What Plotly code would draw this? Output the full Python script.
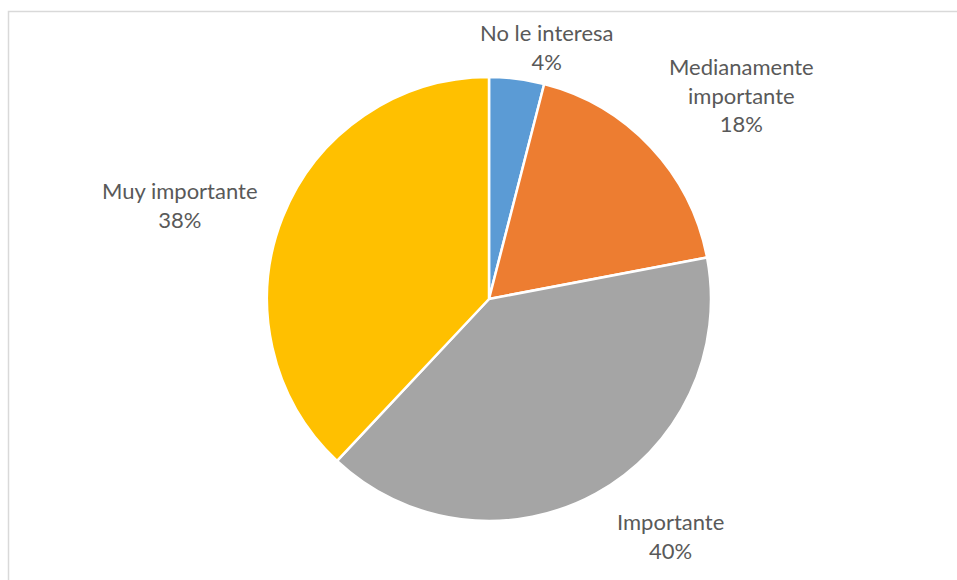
import plotly.graph_objects as go

categories = ["No le interesa", "Medianamente importante", "Importante", "Muy importante"]
label_text = ["No le interesa", "Medianamente<br>importante", "Importante", "Muy importante"]
values = [4, 18, 40, 38]
colors = ["#5B9BD5", "#ED7D31", "#A5A5A5", "#FFC000"]

# label block centres in pixels (layout only)
label_pos = [(546, 47), (741, 95), (670, 536), (180, 205)]

W, H = 957, 580
cx, cy, r = 489, 299, 222

fig = go.Figure(go.Pie(
    labels=categories,
    values=values,
    sort=False,
    direction="clockwise",
    rotation=0,
    textinfo="none",
    hoverinfo="label+percent",
    marker=dict(colors=colors, line=dict(color="white", width=2.5)),
    domain=dict(x=[(cx - r) / W, (cx + r) / W], y=[1 - (cy + r) / H, 1 - (cy - r) / H]),
    showlegend=False,
))

total = sum(values)
annotations = []
for txt, v, (px, py) in zip(label_text, values, label_pos):
    annotations.append(dict(
        x=px / W, y=1 - py / H, xref="paper", yref="paper",
        text=f"{txt}<br>{round(100 * v / total)}%",
        showarrow=False, xanchor="center", yanchor="middle",
        font=dict(family="Lato", size=22, color="#595959"),
    ))

fig.update_layout(
    width=W, height=H,
    margin=dict(l=0, r=0, t=0, b=0),
    paper_bgcolor="white",
    plot_bgcolor="white",
    annotations=annotations,
    shapes=[dict(type="rect", xref="paper", yref="paper",
                 x0=8.5 / W, x1=1.05, y0=-0.05, y1=1 - 11.5 / H,
                 line=dict(color="#D9D9D9", width=1.5), fillcolor="rgba(0,0,0,0)")],
)

fig.write_html("out.html")
